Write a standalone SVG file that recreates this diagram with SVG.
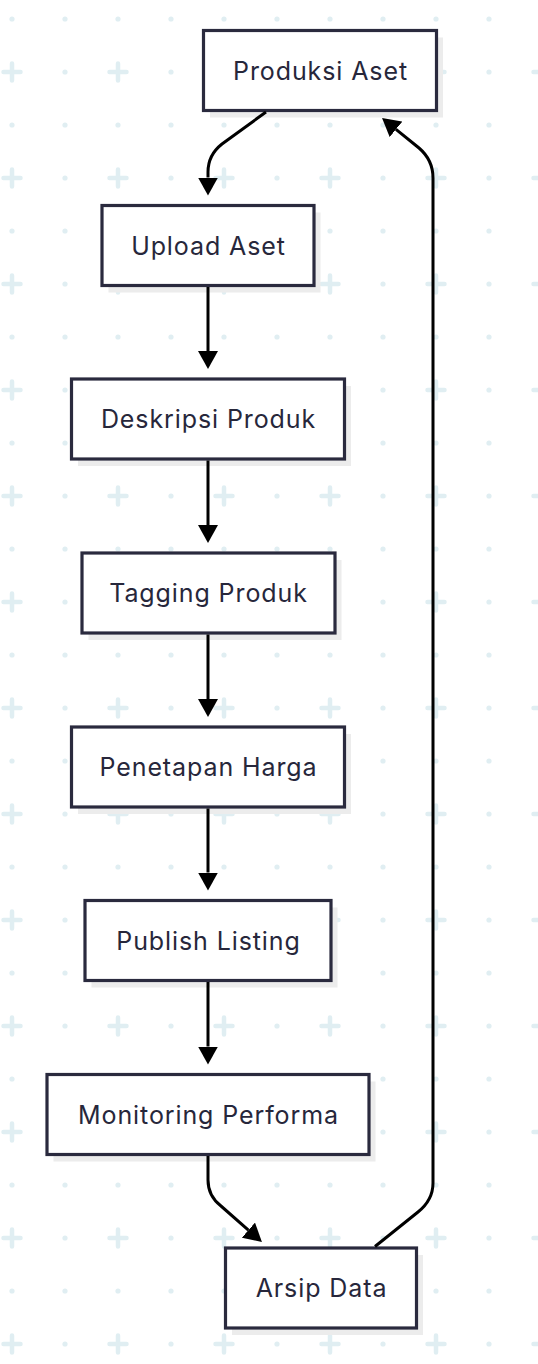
<svg xmlns="http://www.w3.org/2000/svg" width="538" height="1364" viewBox="0 0 538 1364">
  <defs>
    <pattern id="grid" width="106" height="106" patternUnits="userSpaceOnUse">
      <circle cx="12" cy="19" r="2.6" fill="#e0eef2"/>
      <circle cx="65" cy="19" r="2.6" fill="#e0eef2"/>
      <circle cx="65" cy="72" r="2.6" fill="#e0eef2"/>
      <path d="M3.5,72 H20.5 M12,63.5 V80.5" stroke="#e0eef2" stroke-width="4.5" stroke-linecap="round"/>
    </pattern>
    <marker id="arrow" markerUnits="userSpaceOnUse" viewBox="0 0 18 20" refX="0" refY="10" markerWidth="18" markerHeight="20" orient="auto">
      <path d="M0,0 L18,10 L0,20 Z" fill="#000"/>
    </marker>
    <style>
      .shadow { fill: #ececec; }
      .box { fill: #ffffff; stroke: #2a2a3e; stroke-width: 3.2; }
      .label { font-family: Inter, "Noto Sans", sans-serif; font-size: 25px; font-weight: 400; fill: #27273b; text-anchor: middle; letter-spacing: 0.9px; }
      .edge { fill: none; stroke: #000; stroke-width: 3; marker-end: url(#arrow); }
    </style>
  </defs>
  <rect width="538" height="1364" fill="#ffffff"/>
  <rect width="538" height="1364" fill="url(#grid)"/>

  <g id="node-produksi-aset">
    <rect class="shadow" x="210" y="37.5" width="233" height="80"/>
    <rect class="box" x="203.5" y="30.5" width="233" height="80"/>
    <text class="label" x="320.5" y="79.5">Produksi Aset</text>
  </g>
  <g id="node-upload-aset">
    <rect class="shadow" x="108.5" y="212.5" width="212" height="80"/>
    <rect class="box" x="102" y="205.5" width="212" height="80"/>
    <text class="label" x="208.5" y="254.5">Upload Aset</text>
  </g>
  <g id="node-deskripsi-produk">
    <rect class="shadow" x="78" y="386" width="273" height="80"/>
    <rect class="box" x="71.5" y="379" width="273" height="80"/>
    <text class="label" x="208.5" y="428">Deskripsi Produk</text>
  </g>
  <g id="node-tagging-produk">
    <rect class="shadow" x="88.5" y="560" width="253" height="80"/>
    <rect class="box" x="82" y="553" width="253" height="80"/>
    <text class="label" x="208.5" y="602">Tagging Produk</text>
  </g>
  <g id="node-penetapan-harga">
    <rect class="shadow" x="78" y="734" width="273" height="80"/>
    <rect class="box" x="71.5" y="727" width="273" height="80"/>
    <text class="label" x="208.5" y="776">Penetapan Harga</text>
  </g>
  <g id="node-publish-listing">
    <rect class="shadow" x="91.5" y="907.5" width="246" height="80"/>
    <rect class="box" x="85" y="900.5" width="246" height="80"/>
    <text class="label" x="208.5" y="949.5">Publish Listing</text>
  </g>
  <g id="node-monitoring-performa">
    <rect class="shadow" x="53.5" y="1081.5" width="322" height="80"/>
    <rect class="box" x="47" y="1074.5" width="322" height="80"/>
    <text class="label" x="208.5" y="1123.5">Monitoring Performa</text>
  </g>
  <g id="node-arsip-data">
    <rect class="shadow" x="232" y="1255" width="191" height="80"/>
    <rect class="box" x="225.5" y="1248" width="191" height="80"/>
    <text class="label" x="321.5" y="1297">Arsip Data</text>
  </g>

  <g id="connectors">
    <path class="edge" d="M266,112 L222,144 Q208,155 208,172 L208,177.5"/>
    <path class="edge" d="M208,287 L208,351"/>
    <path class="edge" d="M208,460.5 L208,525"/>
    <path class="edge" d="M208,634.5 L208,699"/>
    <path class="edge" d="M208,808.5 L208,872.5"/>
    <path class="edge" d="M208,982 L208,1046.5"/>
    <path class="edge" d="M208,1156 L208,1180 Q208,1196 221,1206 L248.4,1230.1"/>
    <path class="edge" d="M375,1246.5 L418,1212 Q433,1200 433,1183 L433,178 Q433,160 419,148 L396,129.3"/>
  </g>
</svg>
